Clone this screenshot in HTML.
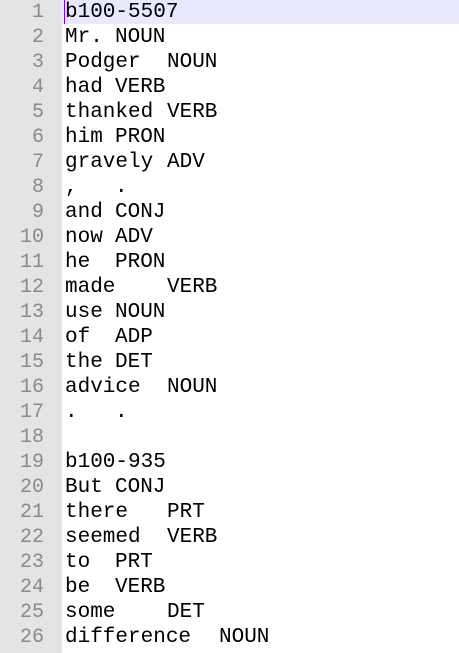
<!DOCTYPE html>
<html><head><meta charset="utf-8"><style>
html,body{margin:0;padding:0;background:#fff;width:459px;height:653px;overflow:hidden}
.g{position:absolute;left:0;top:0;width:62px;height:653px;background:#e4e4e4}
.hl{position:absolute;left:0;top:0;width:459px;height:24px;background:#e8e8ff}
.hlg{position:absolute;left:0;top:0;width:62px;height:24px;background:#e4e4e4}
.caret{position:absolute;left:64px;top:0;width:1px;height:24px;background:#8000ff}
pre{position:absolute;margin:0;top:0;font-family:"Liberation Mono",monospace;font-size:20px;line-height:25px}
.n{left:0;width:44px;text-align:right;color:#8a8a8a}
.r{position:absolute;left:0;top:0;font-family:"Liberation Mono",monospace;font-size:21px;line-height:25px;color:#000}
.l{position:relative;height:25px;white-space:pre}
.l span{position:absolute;top:0}
.a{left:115px}.b{left:167px}.c{left:219px}
</style></head><body>
<div class="g"></div><div class="hl"></div><div class="hlg"></div><div class="caret"></div>
<pre class="n">1
2
3
4
5
6
7
8
9
10
11
12
13
14
15
16
17
18
19
20
21
22
23
24
25
26</pre>
<div class="r">
<div class="l"><span style="left:65px">b100-5507</span></div>
<div class="l"><span style="left:65px">Mr.</span><span class="a">NOUN</span></div>
<div class="l"><span style="left:65px">Podger</span><span class="b">NOUN</span></div>
<div class="l"><span style="left:65px">had</span><span class="a">VERB</span></div>
<div class="l"><span style="left:65px">thanked</span><span class="b">VERB</span></div>
<div class="l"><span style="left:65px">him</span><span class="a">PRON</span></div>
<div class="l"><span style="left:65px">gravely</span><span class="b">ADV</span></div>
<div class="l"><span style="left:65px">,</span><span class="a">.</span></div>
<div class="l"><span style="left:65px">and</span><span class="a">CONJ</span></div>
<div class="l"><span style="left:65px">now</span><span class="a">ADV</span></div>
<div class="l"><span style="left:65px">he</span><span class="a">PRON</span></div>
<div class="l"><span style="left:65px">made</span><span class="b">VERB</span></div>
<div class="l"><span style="left:65px">use</span><span class="a">NOUN</span></div>
<div class="l"><span style="left:65px">of</span><span class="a">ADP</span></div>
<div class="l"><span style="left:65px">the</span><span class="a">DET</span></div>
<div class="l"><span style="left:65px">advice</span><span class="b">NOUN</span></div>
<div class="l"><span style="left:65px">.</span><span class="a">.</span></div>
<div class="l"></div>
<div class="l"><span style="left:65px">b100-935</span></div>
<div class="l"><span style="left:65px">But</span><span class="a">CONJ</span></div>
<div class="l"><span style="left:65px">there</span><span class="b">PRT</span></div>
<div class="l"><span style="left:65px">seemed</span><span class="b">VERB</span></div>
<div class="l"><span style="left:65px">to</span><span class="a">PRT</span></div>
<div class="l"><span style="left:65px">be</span><span class="a">VERB</span></div>
<div class="l"><span style="left:65px">some</span><span class="b">DET</span></div>
<div class="l"><span style="left:65px">difference</span><span class="c">NOUN</span></div>
</div>
</body></html>
